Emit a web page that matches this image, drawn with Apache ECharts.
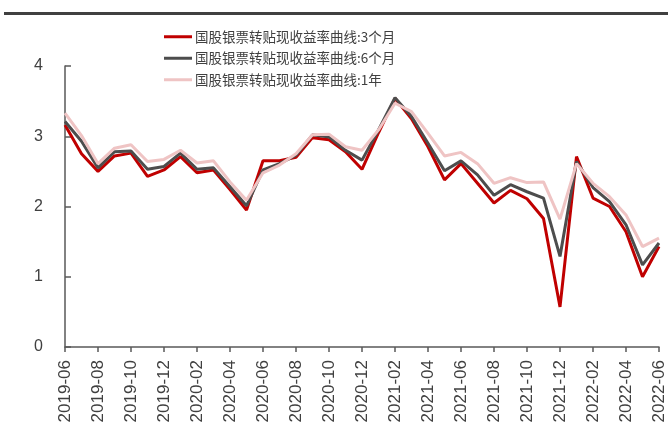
<!DOCTYPE html>
<html>
<head>
<meta charset="utf-8">
<script src="https://cdn.jsdelivr.net/npm/echarts@6/dist/echarts.min.js"></script>
<style>
  html, body { margin: 0; padding: 0; background: #fff; }
  #chart { width: 668px; height: 428px; }
</style>
</head>
<body>
<div id="chart"></div>
<script>
// Monthly observation dates
const months = [
  '2019-06','2019-07','2019-08','2019-09','2019-10','2019-11','2019-12',
  '2020-01','2020-02','2020-03','2020-04','2020-05','2020-06','2020-07',
  '2020-08','2020-09','2020-10','2020-11','2020-12','2021-01','2021-02',
  '2021-03','2021-04','2021-05','2021-06','2021-07','2021-08','2021-09',
  '2021-10','2021-11','2021-12','2022-01','2022-02','2022-03','2022-04',
  '2022-05','2022-06'
];

// Rediscount yield curve, 3-month tenor (%)
const rate3m = [
  3.16, 2.75, 2.50, 2.72, 2.76, 2.43, 2.52, 2.71, 2.48, 2.52, 2.24, 1.95,
  2.65, 2.65, 2.70, 2.98, 2.95, 2.78, 2.53, 3.05, 3.54, 3.25, 2.85, 2.38,
  2.61, 2.33, 2.05, 2.23, 2.11, 1.83, 0.57, 2.71, 2.12, 2.00, 1.64, 1.00,
  1.43
];

// 6-month tenor (%)
const rate6m = [
  3.21, 2.93, 2.55, 2.78, 2.79, 2.53, 2.57, 2.76, 2.53, 2.55, 2.28, 2.01,
  2.52, 2.61, 2.73, 3.02, 2.99, 2.80, 2.66, 3.09, 3.55, 3.28, 2.90, 2.51,
  2.65, 2.45, 2.16, 2.31, 2.21, 2.12, 1.29, 2.64, 2.27, 2.07, 1.74, 1.17,
  1.48
];

// 1-year tenor (%)
const rate1y = [
  3.33, 3.01, 2.61, 2.83, 2.88, 2.64, 2.67, 2.80, 2.62, 2.65, 2.35, 2.09,
  2.48, 2.59, 2.75, 3.02, 3.03, 2.85, 2.80, 3.09, 3.47, 3.35, 3.04, 2.72,
  2.77, 2.61, 2.33, 2.41, 2.34, 2.35, 1.82, 2.61, 2.33, 2.14, 1.88, 1.43,
  1.55
];

const seriesNames = [
  '国股银票转贴现收益率曲线:3个月',
  '国股银票转贴现收益率曲线:6个月',
  '国股银票转贴现收益率曲线:1年'
];
const seriesColors = ['#C00000', '#4D4D4D', '#EFC4C4'];
const seriesData = [rate3m, rate6m, rate1y];

const chart = echarts.init(document.getElementById('chart'), null, { renderer: 'canvas' });

const cjkFont = '"Microsoft YaHei", "Noto Sans CJK SC", "Noto Sans", sans-serif';
const numFont = 'Arial, "Liberation Sans", sans-serif';

chart.setOption({
  animation: false,
  backgroundColor: '#ffffff',
  textStyle: { fontFamily: cjkFont },
  graphic: [{
    type: 'rect',
    shape: { x: 4, y: 12, width: 664, height: 3 },
    style: { fill: '#404040' },
    silent: true
  }],
  legend: {
    orient: 'vertical',
    left: 159,
    top: 25,
    itemWidth: 28,
    itemHeight: 3,
    itemGap: 8,
    icon: 'rect',
    textStyle: { fontSize: 13.5, color: '#404040', fontFamily: cjkFont, padding: [0, 0, 0, -2] },
    data: seriesNames
  },
  grid: {
    left: 65,
    right: 9,
    top: 66,
    bottom: 81,
    containLabel: false
  },
  xAxis: {
    type: 'category',
    data: months,
    boundaryGap: false,
    axisLine: { lineStyle: { color: '#595959', width: 1.5 } },
    axisTick: { show: true, interval: 1, length: 5, lineStyle: { color: '#595959', width: 1.5 } },
    axisLabel: {
      interval: 1,
      rotate: 90,
      margin: 13,
      fontSize: 17,
      color: '#404040',
      fontFamily: numFont
    },
    splitLine: { show: false }
  },
  yAxis: {
    type: 'value',
    min: 0,
    max: 4,
    interval: 1,
    axisLine: { show: true, lineStyle: { color: '#595959', width: 1.5 } },
    axisTick: { show: true, inside: true, length: 6, lineStyle: { color: '#595959', width: 1.5 } },
    axisLabel: { fontSize: 16, color: '#404040', margin: 22, fontFamily: numFont },
    splitLine: { show: false }
  },
  series: seriesNames.map((name, k) => ({
    name: name,
    type: 'line',
    data: seriesData[k],
    symbol: 'none',
    showSymbol: false,
    lineStyle: { color: seriesColors[k], width: 3 },
    itemStyle: { color: seriesColors[k] },
    z: 2 + k
  }))
});
</script>
</body>
</html>
